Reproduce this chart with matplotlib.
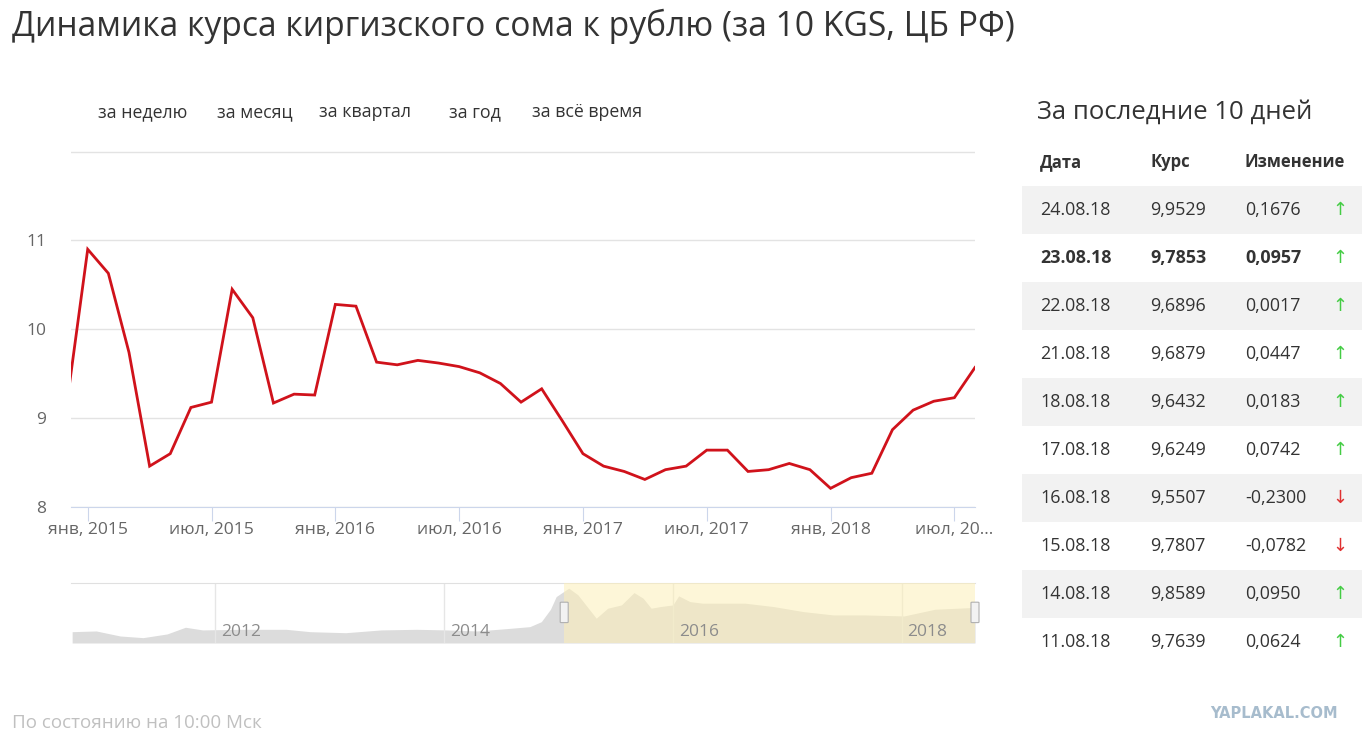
import matplotlib
matplotlib.use("Agg")
import matplotlib.pyplot as plt
from matplotlib.patches import Rectangle, FancyBboxPatch

plt.rcParams['font.family'] = ['Open Sans', 'DejaVu Sans']

# monthly rate, Dec 2014 .. Aug 2018 (month index 0 = Jan 2015)
months = list(range(-1, 44))
rate = [9.18,
        10.90, 10.63, 9.74, 8.46, 8.60, 9.12, 9.18, 10.45, 10.13, 9.17, 9.27, 9.26,
        10.28, 10.26, 9.63, 9.60, 9.65, 9.62, 9.58, 9.51, 9.39, 9.18, 9.33, 8.97,
        8.60, 8.46, 8.40, 8.31, 8.42, 8.46, 8.64, 8.64, 8.40, 8.42, 8.49, 8.42,
        8.21, 8.33, 8.38, 8.87, 9.09, 9.19, 9.23, 9.57]
tick_pos = [0, 6, 12, 18, 24, 30, 36, 42]
tick_labels = ["янв, 2015", "июл, 2015", "янв, 2016", "июл, 2016",
               "янв, 2017", "июл, 2017", "янв, 2018", "июл, 20…"]

# navigator (whole history)
nav_years = [2010.75, 2010.96, 2011.17, 2011.37, 2011.58, 2011.74, 2011.89, 2012.21,
             2012.62, 2012.83, 2013.14, 2013.45, 2013.76, 2014.02, 2014.29, 2014.54,
             2014.75, 2014.85, 2014.93, 2014.98, 2015.09, 2015.17, 2015.25, 2015.33,
             2015.43, 2015.55, 2015.66, 2015.74, 2015.81, 2015.89, 2016.00, 2016.05,
             2016.15, 2016.26, 2016.63, 2016.88, 2017.14, 2017.40, 2017.67, 2018.02,
             2018.29, 2018.60, 2018.64]
nav_vals = [6.67, 6.74, 6.25, 6.09, 6.45, 7.10, 6.84, 6.90,
            6.90, 6.67, 6.57, 6.84, 6.90, 6.84, 6.74, 6.96,
            7.16, 7.64, 8.85, 10.08, 10.90, 10.25, 9.11, 7.98,
            8.95, 9.27, 10.47, 9.92, 8.95, 9.11, 9.27, 10.15,
            9.59, 9.44, 9.44, 9.11, 8.62, 8.30, 8.30, 8.20,
            8.85, 9.01, 9.57]
nav_sel = (2015.05, 2018.64)
nav_ticks = [2012, 2014, 2016, 2018]

periods = ["за неделю", "за месяц", "за квартал", "за год", "за всё время"]
period_x = [98, 217, 319, 449, 532]

dates = ["24.08.18", "23.08.18", "22.08.18", "21.08.18", "18.08.18",
         "17.08.18", "16.08.18", "15.08.18", "14.08.18", "11.08.18"]
kurs = ["9,9529", "9,7853", "9,6896", "9,6879", "9,6432",
        "9,6249", "9,5507", "9,7807", "9,8589", "9,7639"]
change = ["0,1676", "0,0957", "0,0017", "0,0447", "0,0183",
          "0,0742", "-0,2300", "-0,0782", "0,0950", "0,0624"]

W, H = 1365, 743
fig = plt.figure(figsize=(W / 100, H / 100), dpi=100)


def px(x, y):
    return x / W, 1 - y / H


def ftext(x, y, s, **kw):
    fx, fy = px(x, y)
    fig.text(fx, fy, s, **kw)


# title
ftext(12, 26, "Динамика курса киргизского сома к рублю (за 10 KGS, ЦБ РФ)",
      fontsize=24.2, color="#333333", va="center", ha="left")

for label, x in zip(periods, period_x):
    ftext(x, 112, label, fontsize=12.8, color="#333333", va="center", ha="left")

# main chart
ax = fig.add_axes([71 / W, 1 - 507 / H, 904 / W, 359 / H])
ax.plot(months, rate, color="#d0121b", lw=2.0, solid_joinstyle="miter", clip_on=True)
ax.set_xlim(-0.81, 43)
ax.set_ylim(8, 12.04)
ax.set_yticks([8, 9, 10, 11, 12])
ax.set_yticklabels(["8", "9", "10", "11", ""])
ax.grid(axis="y", color="#e3e3e3", lw=1)
ax.set_axisbelow(True)
for s in ["top", "right", "left"]:
    ax.spines[s].set_visible(False)
ax.spines["bottom"].set_color("#ccd6eb")
ax.tick_params(axis="y", length=0, pad=18, labelsize=12.5, labelcolor="#666666")
ax.set_xticks(tick_pos)
ax.set_xticklabels(tick_labels)
ax.tick_params(axis="x", length=10, color="#ccd6eb", labelsize=12.6,
               labelcolor="#666666", pad=1)
ax.patch.set_visible(False)

# navigator
nav = fig.add_axes([71 / W, 1 - 643 / H, 904 / W, 60 / H])
nav.fill_between(nav_years, nav_vals, 5.57, color="#dcdcdc", lw=0)
nav.axvspan(nav_sel[0], nav_sel[1], color="#fdf0b8", alpha=0.55, lw=0, zorder=3)
nav.set_xlim(2010.74, 2018.64)
nav.set_ylim(5.57, 11.4)
nav.set_yticks([])
nav.set_xticks(nav_ticks)
nav.set_xticklabels([])
nav.grid(axis="x", color="#e6e6e6", lw=1)
nav.tick_params(length=0)
for s in ["bottom", "right", "left"]:
    nav.spines[s].set_visible(False)
nav.spines["top"].set_color("#e0e0e0")
for yr in nav_ticks:
    nav.text(yr + 0.05, 0.18, str(yr), transform=nav.get_xaxis_transform(),
             fontsize=12.5, color="#8c8c8c", ha="left", va="center", zorder=4)
for xs in nav_sel:
    nav.add_patch(FancyBboxPatch((xs - 0.035, 0.34), 0.07, 0.34,
                                 boxstyle="round,pad=0,rounding_size=0.01",
                                 transform=nav.get_xaxis_transform(),
                                 fc="#f2f2f2", ec="#b0b0b0", lw=0.8, zorder=5,
                                 clip_on=False))

# right table
ftext(1037, 112, "За последние 10 дней", fontsize=18.5, color="#333333",
      va="center", ha="left")
ftext(1040, 162, "Дата", fontsize=12, color="#333333", va="center", weight="bold")
ftext(1150, 162, "Курс", fontsize=12, color="#333333", va="center", weight="bold")
ftext(1245, 162, "Изменение", fontsize=12, color="#333333", va="center", weight="bold")

for i, (d, k, c) in enumerate(zip(dates, kurs, change)):
    top = 186 + 48 * i
    yc = top + 24
    if i % 2 == 0:
        fx, fy = px(1022, top + 48)
        fig.patches.append(Rectangle((fx, fy), 340 / W, 48 / H, transform=fig.transFigure,
                                     fc="#f2f2f2", ec="none", zorder=0))
    w = "bold" if i == 1 else "normal"
    ftext(1040, yc, d, fontsize=12.9, color="#333333", va="center", weight=w)
    ftext(1150, yc, k, fontsize=12.9, color="#333333", va="center", weight=w)
    ftext(1245, yc, c, fontsize=12.9, color="#333333", va="center", weight=w)
    neg = c.startswith("-")
    ftext(1340, yc, "↓" if neg else "↑", fontsize=13, family="DejaVu Sans",
          color="#e03030" if neg else "#44cc44", va="center", ha="center")

ftext(12, 723, "По состоянию на 10:00 Мск", fontsize=13.5, color="#c0c0c0", va="center")
ftext(1338, 713, "YAPLAKAL.COM", fontsize=10.5, color="#a7bccd", va="center",
      ha="right", weight="bold", family="DejaVu Sans")

fig.savefig("out.png", dpi=100)
